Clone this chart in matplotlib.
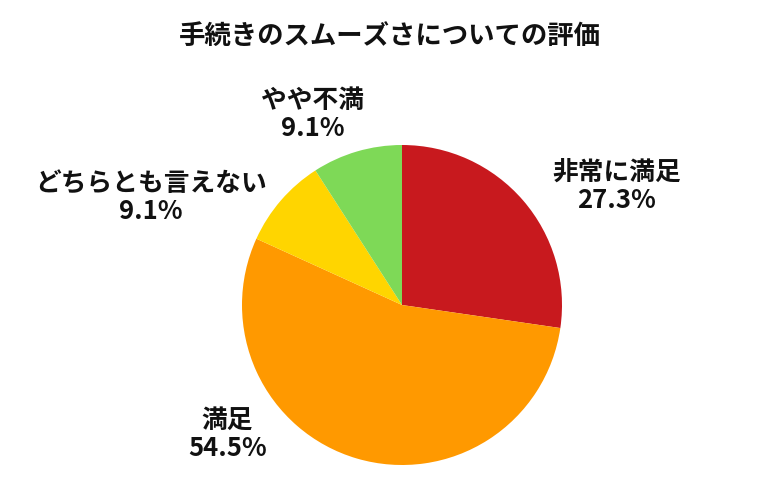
import matplotlib
matplotlib.use("Agg")
import matplotlib.pyplot as plt

plt.rcParams['font.family'] = ['Noto Sans CJK JP', 'DejaVu Sans']

# data
categories = ['非常に満足', '満足', 'どちらとも言えない', 'やや不満']
shares = [27.3, 54.5, 9.1, 9.1]
colors = ['#C8191E', '#FF9900', '#FFD500', '#7ED957']
title = '手続きのスムーズさについての評価'

# label positions in pie units (radius = 1)
label_pos = [(1.34, 0.74), (-1.09, -0.81), (-1.57, 0.67), (-0.56, 1.19)]

fig = plt.figure(figsize=(7.8, 5.0), dpi=100)
# pie centre ~ (402, 305) px, radius ~160 px
ax = fig.add_axes([(402 - 160) / 780, (500 - 305 - 160) / 500, 320 / 780, 320 / 500])
ax.pie(shares, colors=colors, startangle=90, counterclock=False,
       wedgeprops=dict(linewidth=0))
ax.set_xlim(-1, 1)
ax.set_ylim(-1, 1)
ax.set_aspect('equal')

for cat, val, (x, y) in zip(categories, shares, label_pos):
    ax.text(x, y, f'{cat}\n{val:.1f}%', ha='center', va='center',
            fontsize=18.5, fontweight='bold', color='#111111',
            linespacing=1.05, clip_on=False)

fig.text(390 / 780, 1 - 36 / 500, title, ha='center', va='center',
         fontsize=19, fontweight='bold', color='#111111')

fig.savefig('out.png', dpi=100)
